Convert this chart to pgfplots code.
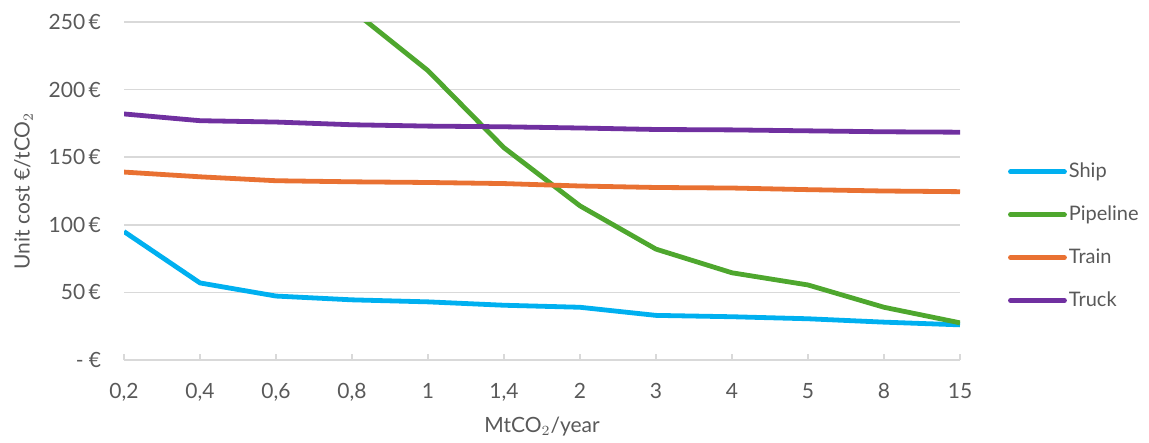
\documentclass[border=0pt]{standalone}
\usepackage{pgfplots}
\pgfplotsset{compat=1.18}
\usepackage{fontspec}
\setmainfont{Lato}

\definecolor{shipc}{HTML}{00B0F0}
\definecolor{pipec}{HTML}{4EA72E}
\definecolor{trainc}{HTML}{E97132}
\definecolor{truckc}{HTML}{7030A0}
\definecolor{txt}{HTML}{595959}
\definecolor{gridc}{HTML}{D9D9D9}

\begin{document}
\begin{tikzpicture}
\begin{axis}[
  scale only axis,
  width=418pt, height=169pt,
  at={(0,0)}, anchor=south west,
  xmin=0, xmax=11, ymin=0, ymax=250,
  xtick={0,...,11},
  xticklabels={{0,2},{0,4},{0,6},{0,8},1,{1,4},2,3,4,5,8,15},
  ytick={0,50,100,150,200,250},
  yticklabels={{-\hspace{2.5pt}€},{50\,€},{100\,€},{150\,€},{200\,€},{250\,€}},
  axis x line*=bottom,
  axis y line*=left,
  x axis line style={gridc, line width=0.8pt, -},
  y axis line style={draw=none},
  ymajorgrids,
  major grid style={gridc, line width=0.8pt},
  major tick length=2.8pt,
  tick align=inside,
  xtick style={gridc, line width=0.8pt},
  ytick style={draw=none},
  tick label style={font=\fontsize{10.5}{12}\selectfont, text=txt},
  xticklabel style={yshift=-8pt},
  yticklabel style={xshift=-8pt},
  xlabel={MtCO$_2$/year},
  ylabel={Unit cost €/tCO$_2$},
  label style={font=\fontsize{10.5}{12}\selectfont, text=txt},
  xlabel style={yshift=-1pt},
  ylabel style={yshift=1pt},
  every axis plot/.append style={line width=2.4pt, line join=round},
  legend image code/.code={\draw[#1, line cap=round] (0pt,0pt) -- (27pt,0pt);},
  legend style={draw=none, fill=none, at={(1.057,0.59)}, anchor=north west,
    font=\fontsize{10}{12}\selectfont, text=txt, row sep=10.6pt,
    inner sep=0pt, nodes={inner sep=1pt}},
  legend cell align=left,
]
% Ship
\addplot[shipc] coordinates {
 (0,95) (1,57) (2,47.3) (3,44.5) (4,43) (5,40.5) (6,39) (7,33) (8,32) (9,30.5) (10,28) (11,26)};
% Pipeline (values for the smallest volumes lie far above the range shown)
\addplot[pipec] coordinates {
 (3,259) (4,214) (5,157) (6,114) (7,82) (8,64.5) (9,55.5) (10,39) (11,27.5)};
% Train
\addplot[trainc] coordinates {
 (0,139) (1,135.5) (2,132.6) (3,131.8) (4,131.3) (5,130.5) (6,128.7) (7,127.6) (8,127.2) (9,126) (10,125) (11,124.5)};
% Truck
\addplot[truckc] coordinates {
 (0,182) (1,177) (2,176) (3,174) (4,173) (5,172.5) (6,171.6) (7,170.5) (8,170.2) (9,169.5) (10,168.8) (11,168.5)};
\legend{Ship,Pipeline,Train,Truck}
\end{axis}
\path[use as bounding box] (-62pt,-41pt) rectangle (512.5pt,180pt);
\end{tikzpicture}
\end{document}
